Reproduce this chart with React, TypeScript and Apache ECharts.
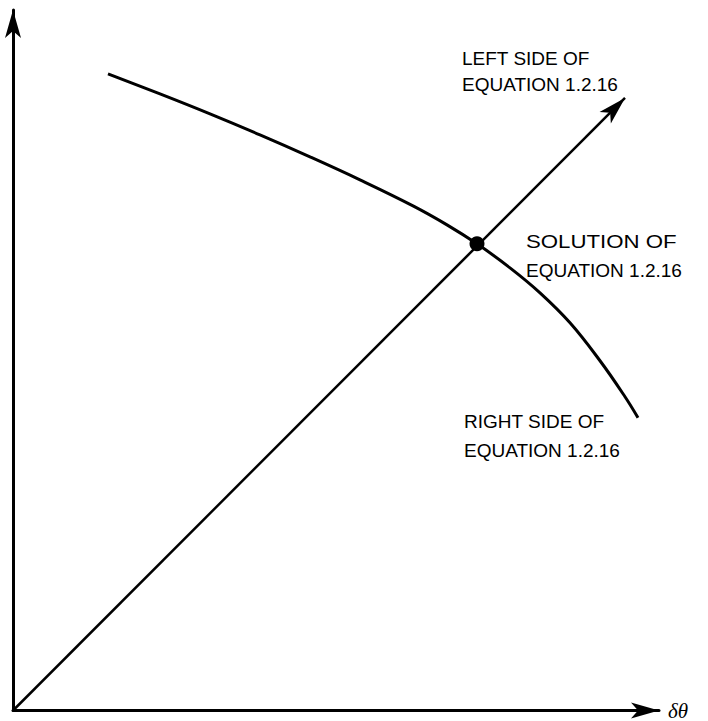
import React, { useEffect, useRef } from "react";
import * as echarts from "echarts";

// Data units: the plotting area spans 0..X_MAX horizontally and 0..Y_MAX vertically
const X_MAX = 646;
const Y_MAX = 701;

// "Right side of equation 1.2.16" curve
const curveX = [95, 147, 197, 247, 297, 347, 400, 434, 464, 497, 527, 557, 587, 612, 625];
const curveY = [637, 617, 597, 576, 554, 531, 505, 486, 467, 443, 418, 388, 350, 314, 293];

// "Left side of equation 1.2.16" straight line (with arrow)
const lineStart = [0, 0];
const lineEnd = [612, 613];

// Solution point
const solutionPoint = [464, 467];

// Annotation texts
const leftLabel = ["LEFT SIDE OF", "EQUATION 1.2.16"];
const solutionLabel = ["SOLUTION OF", "EQUATION 1.2.16"];
const rightLabel = ["RIGHT SIDE OF", "EQUATION 1.2.16"];
const xAxisName = "δθ";

export default function App() {
  const ref = useRef<HTMLDivElement>(null);

  useEffect(() => {
    document.body.style.margin = "0";
    const chart = echarts.init(ref.current!, undefined, { renderer: "svg" });
    const font = '19px "Liberation Sans", Arial, sans-serif';
    const mkText = (txt: string, x: number, y: number, scaleX = 1) => ({
      type: "text",
      x,
      y,
      scaleX,
      style: { text: txt, font, fill: "#000", verticalAlign: "middle", align: "left" },
      silent: true,
    });
    const axisCommon = {
      type: "value" as const,
      axisLabel: { show: false },
      axisTick: { show: false },
      splitLine: { show: false },
      axisLine: {
        show: true,
        onZero: false,
        symbol: ["none", "arrow"],
        symbolSize: [12, 28],
        lineStyle: { color: "#000", width: 3 },
      },
    };
    chart.setOption({
      animation: false,
      backgroundColor: "#fff",
      grid: { left: 13, right: 49, top: 10, bottom: 10 },
      xAxis: {
        ...axisCommon,
        min: 0,
        max: X_MAX,
        name: xAxisName,
        nameLocation: "end",
        nameGap: 9,
        nameTextStyle: {
          color: "#000",
          fontSize: 21,
          fontStyle: "italic",
          fontFamily: '"Liberation Serif", "DejaVu Serif", serif',
          align: "left",
          verticalAlign: "middle",
        },
      },
      yAxis: { ...axisCommon, min: 0, max: Y_MAX },
      series: [
        {
          type: "line",
          name: "Right side",
          data: curveX.map((x, i) => [x, curveY[i]]),
          smooth: 0.4,
          showSymbol: false,
          lineStyle: { color: "#000", width: 3 },
          silent: true,
          z: 2,
        },
        {
          type: "scatter",
          name: "Solution",
          data: [solutionPoint],
          symbol: "circle",
          symbolSize: 15,
          itemStyle: { color: "#000", opacity: 1 },
          silent: true,
          z: 5,
          markLine: {
            silent: true,
            symbol: ["none", "arrow"],
            label: { show: false },
            emphasis: { disabled: true },
            lineStyle: { color: "#000", width: 2.5, type: "solid" },
            itemStyle: { color: "#000" },
            data: [
              [
                { coord: lineStart, symbol: "none" },
                { coord: lineEnd, symbol: "arrow", symbolSize: [12, 28] },
              ],
            ],
          },
        },
      ],
      graphic: [
        mkText(leftLabel[0], 462, 58),
        mkText(leftLabel[1], 462, 84),
        mkText(solutionLabel[0], 526, 241, 1.17),
        mkText(solutionLabel[1], 526, 270),
        mkText(rightLabel[0], 464, 421),
        mkText(rightLabel[1], 464, 450),
      ],
    });
    return () => chart.dispose();
  }, []);

  return <div ref={ref} style={{ width: 708, height: 721 }} />;
}
